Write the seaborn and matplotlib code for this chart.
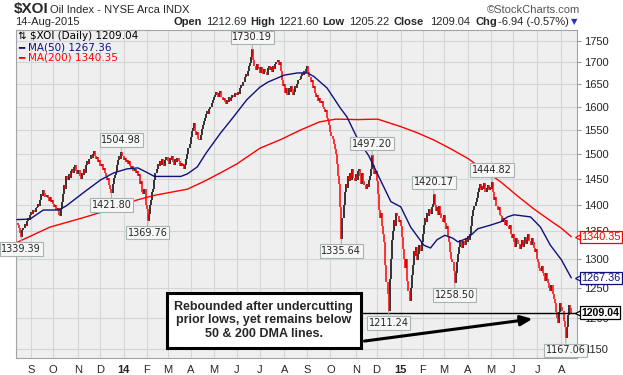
"""$XOI daily bar chart with 50/200-day moving averages, StockCharts style."""

import matplotlib

matplotlib.use("Agg")
import matplotlib.pyplot as plt
import matplotlib.ticker as mticker
import matplotlib.transforms as mtrans
import numpy as np
import pandas as pd
import seaborn as sns

# NYSE holidays inside the two-year window
HOLIDAYS = [
    "2013-09-02", "2013-11-28", "2013-12-25", "2014-01-01", "2014-01-20",
    "2014-02-17", "2014-04-18", "2014-05-26", "2014-07-04", "2014-09-01",
    "2014-11-27", "2014-12-25", "2015-01-01", "2015-01-19", "2015-02-16",
    "2015-04-03", "2015-05-25", "2015-07-03",
]

# daily closes (14-Aug-2013 .. 14-Aug-2015)
closes = [
    1365, 1362, 1356, 1348, 1339.39, 1352, 1357, 1363, 1360, 1370,
    1375, 1372, 1380, 1386, 1383, 1390, 1386, 1393, 1395, 1402,
    1398, 1410, 1420, 1416, 1428, 1422, 1415, 1419, 1412, 1408,
    1414, 1405, 1410, 1402, 1396, 1400, 1390, 1393, 1380, 1378,
    1392, 1405, 1420, 1438, 1430, 1455, 1448, 1460, 1452, 1465,
    1470, 1462, 1474, 1478, 1466, 1460, 1468, 1455, 1450, 1462,
    1458, 1470, 1462, 1478, 1485, 1480, 1490, 1498, 1492, 1500,
    1506, 1497, 1490, 1494, 1483, 1487, 1475, 1480, 1468, 1472,
    1462, 1455, 1448, 1452, 1438, 1430, 1421.80, 1440, 1452, 1458,
    1464, 1478, 1488, 1495, 1490, 1504.98, 1496, 1488, 1492, 1484,
    1488, 1480, 1485, 1475, 1470, 1476, 1466, 1470, 1462, 1465,
    1455, 1460, 1440, 1445, 1425, 1420, 1430, 1400, 1392, 1369.76,
    1382, 1400, 1410, 1425, 1430, 1448, 1462, 1470, 1480, 1476,
    1485, 1478, 1490, 1482, 1475, 1488, 1494, 1485, 1480, 1492,
    1488, 1496, 1484, 1478, 1490, 1483, 1492, 1486, 1476, 1482,
    1475, 1480, 1470, 1478, 1490, 1500, 1512, 1520, 1535, 1548,
    1555, 1565, 1548, 1540, 1545, 1532, 1528, 1540, 1552, 1560,
    1568, 1575, 1585, 1590, 1583, 1595, 1600, 1608, 1615, 1622,
    1625, 1632, 1628, 1620, 1630, 1635, 1622, 1615, 1618, 1610,
    1605, 1615, 1610, 1620, 1612, 1618, 1625, 1620, 1630, 1626,
    1625, 1632, 1628, 1640, 1648, 1645, 1655, 1665, 1672, 1668,
    1680, 1690, 1698, 1712, 1730.19, 1705, 1690, 1682, 1695, 1686,
    1685, 1676, 1688, 1680, 1672, 1684, 1678, 1670, 1686, 1690,
    1682, 1688, 1678, 1690, 1684, 1695, 1700, 1705, 1694, 1700,
    1680, 1660, 1645, 1650, 1630, 1640, 1625, 1640, 1632, 1645,
    1638, 1625, 1632, 1645, 1640, 1650, 1658, 1662, 1668, 1675,
    1670, 1680, 1676, 1685, 1690, 1678, 1665, 1655, 1660, 1640,
    1645, 1630, 1620, 1625, 1612, 1618, 1608, 1612, 1600, 1595,
    1588, 1592, 1575, 1570, 1560, 1545, 1538, 1530, 1520, 1510,
    1500, 1480, 1455, 1440, 1395, 1335.64, 1375, 1400, 1425, 1440,
    1432, 1455, 1445, 1462, 1448, 1470, 1452, 1445, 1460, 1448,
    1465, 1470, 1455, 1440, 1462, 1445, 1438, 1430, 1440, 1435,
    1448, 1455, 1470, 1497.20, 1478, 1460, 1465, 1445, 1420, 1390,
    1375, 1385, 1360, 1345, 1330, 1290, 1260, 1240, 1211.24, 1265,
    1300, 1335, 1350, 1372, 1360, 1385, 1378, 1368, 1372, 1360,
    1340, 1318, 1300, 1285, 1300, 1262, 1245, 1228, 1250, 1272,
    1290, 1315, 1305, 1322, 1298, 1310, 1325, 1315, 1330, 1345,
    1362, 1375, 1368, 1385, 1378, 1392, 1382, 1395, 1402, 1420.17,
    1400, 1388, 1395, 1380, 1398, 1385, 1375, 1368, 1380, 1365,
    1355, 1360, 1342, 1330, 1312, 1300, 1295, 1280, 1258.50, 1275,
    1295, 1310, 1322, 1335, 1328, 1320, 1332, 1325, 1338, 1330,
    1342, 1335, 1345, 1360, 1378, 1390, 1398, 1405, 1412, 1425,
    1432, 1440, 1428, 1436, 1430, 1442, 1425, 1432, 1438, 1428,
    1435, 1430, 1444.82, 1425, 1410, 1415, 1398, 1390, 1395, 1380,
    1378, 1368, 1375, 1370, 1362, 1372, 1360, 1355, 1362, 1345,
    1338, 1345, 1330, 1322, 1338, 1335, 1328, 1318, 1325, 1335,
    1322, 1330, 1340, 1328, 1335, 1345, 1332, 1325, 1338, 1330,
    1320, 1312, 1318, 1300, 1295, 1285, 1280, 1288, 1275, 1270,
    1262, 1275, 1265, 1258, 1250, 1245, 1255, 1240, 1232, 1225,
    1210, 1200, 1192, 1210, 1225, 1218, 1212, 1195, 1185, 1167.06,
    1185, 1205, 1222, 1216, 1209.04,
]

# moving averages, sampled along the curves (trading-day index, value)
ma50_idx = [0, 12, 24, 38, 45, 61, 76, 88, 100, 110, 119, 125, 149, 155, 164,
            172, 185, 197, 209, 221, 228, 243, 255, 264, 270, 282, 294, 300,
            310, 320, 330, 340, 349, 358, 370, 376, 382, 389, 396, 401, 410,
            419, 431, 440, 446, 452, 467, 476, 485, 495, 504]
ma50_val = [1372, 1373, 1390, 1390, 1398, 1424, 1448, 1462, 1470, 1472, 1462,
            1455, 1455, 1460, 1474, 1502, 1543, 1578, 1615, 1643, 1654, 1670,
            1675, 1675, 1667, 1641, 1597, 1578, 1530, 1496, 1450, 1406, 1396,
            1358, 1325, 1320, 1335, 1343, 1338, 1331, 1338, 1355, 1362, 1368,
            1377, 1381, 1377, 1358, 1325, 1299, 1267.36]
ma200_idx = [0, 30, 61, 91, 109, 125, 155, 170, 185, 200, 221, 240, 258, 275,
             290, 310, 328, 349, 364, 379, 395, 410, 425, 440, 455, 470, 485,
             495, 504]
ma200_val = [1330, 1358, 1376, 1395, 1409, 1418, 1430, 1445, 1462, 1480, 1512,
             1530, 1550, 1567, 1573, 1572, 1573, 1557, 1544, 1529, 1510, 1491,
             1467, 1444, 1417, 1392, 1370, 1356, 1340.35]

# labelled swing highs / lows
label_idx = [4, 86, 95, 119, 214, 295, 323, 338, 379, 398, 432, 499]
label_val = [1339.39, 1421.80, 1504.98, 1369.76, 1730.19, 1335.64, 1497.20,
             1211.24, 1420.17, 1258.50, 1444.82, 1167.06]
label_side = ["low", "low", "high", "low", "high", "low", "high", "low",
              "high", "low", "high", "low"]

price_ticks = [1150, 1200, 1250, 1300, 1350, 1400, 1450, 1500, 1550, 1600,
               1650, 1700, 1750]

W, H = 623, 375
NAVY = "#10107f"
GRID = "#d3d6d6"

sns.set_style("white")
plt.rcParams["font.family"] = ["Liberation Sans", "DejaVu Sans"]

fig = plt.figure(figsize=(W / 100, H / 100), dpi=100)
ax = fig.add_axes([16 / W, 17 / H, 561 / W, 328.5 / H])
ax.set_facecolor("#efefef")

dates = pd.bdate_range("2013-08-14", "2015-08-14", freq="C", holidays=HOLIDAYS)
n = min(len(dates), len(closes))
dates = dates[-n:]
close = np.asarray(closes[-n:], dtype=float)
idx = np.arange(n)
prev = np.r_[close[0], close[:-1]]
down = close < prev
lo = np.minimum(prev, close)
hi = np.maximum(prev, close)
hi = np.where(hi - lo < 2, hi + 1.5, hi)

ax.vlines(idx[~down], lo[~down], hi[~down], color="black", lw=1.1, zorder=3)
ax.vlines(idx[down], lo[down], hi[down], color="#ff0000", lw=1.1, zorder=3)

sns.lineplot(x=ma200_idx, y=ma200_val, ax=ax, color="#ff0000", lw=1.0, zorder=4)
sns.lineplot(x=ma50_idx, y=ma50_val, ax=ax, color=NAVY, lw=1.0, zorder=4)

# scales
ax.set_yscale("log")
ax.set_ylim(1136.5, 1777)
ax.set_xlim(-0.8, 509.2)
ax.yaxis.set_major_locator(mticker.FixedLocator(price_ticks))
ax.yaxis.set_major_formatter(mticker.FuncFormatter(lambda v, _: f"{v:.0f}"))
ax.yaxis.set_minor_locator(mticker.NullLocator())
ax.yaxis.tick_right()

months = pd.Series(dates.to_period("M"))
starts = np.flatnonzero(months.ne(months.shift()).to_numpy())[1:]
mlabels = [f"{dates[i].year % 100:02d}" if dates[i].month == 1
           else dates[i].strftime("%b")[0] for i in starts]
ax.set_xticks(starts)
ax.set_xticklabels(mlabels)
for t, i in zip(ax.get_xticklabels(), starts):
    if dates[i].month == 1:
        t.set_fontweight("bold")
        t.set_fontsize(9)

ax.tick_params(axis="both", labelsize=8, length=3, color="#999999", pad=2)
ax.grid(True, color=GRID, lw=0.8, zorder=0)
ax.set_axisbelow(True)
for s in ax.spines.values():
    s.set_color("#a0a4a4")
    s.set_linewidth(0.8)
ax.set_xlabel("")
ax.set_ylabel("")

# swing labels
for i, v, side in zip(label_idx, label_val, label_side):
    dy = 8.5 if side == "high" else -8.5
    ax.annotate(f"{v:.2f}", xy=(i, v), xytext=(0, dy), textcoords="offset points",
                ha="center", va="center", fontsize=7, family="DejaVu Sans",
                bbox=dict(boxstyle="square,pad=0.18", fc="#f7f7f7", ec="#a9b2b2", lw=0.8),
                arrowprops=dict(arrowstyle="-", color="#a9b2b2", lw=0.8,
                                shrinkA=0, shrinkB=0),
                zorder=7)

# support line, comment box and arrow
ax.hlines(1209.04, 300, 509.2, color="black", lw=1.0, zorder=5)
ax.text(224.5, 1196, "Rebounded after undercutting\nprior lows, yet remains below\n50 & 200 DMA lines.",
        ha="center", va="center", fontsize=9, fontweight="bold", linespacing=1.2,
        bbox=dict(boxstyle="square,pad=0.62", fc="white", ec="black", lw=2.2), zorder=8)
ax.annotate("", xy=(468.8, 1198.6), xytext=(316, 1163),
            arrowprops=dict(arrowstyle="-|>,head_length=0.7,head_width=0.3",
                            lw=2.2, color="black", shrinkA=0, shrinkB=0),
            zorder=8)

# price tags on the right axis
blend = mtrans.blended_transform_factory(ax.transAxes, ax.transData)
for val, col, weight in [(1340.35, "#ff0000", "normal"), (1267.36, NAVY, "normal"),
                         (1209.04, "black", "bold")]:
    ax.plot([1.004], [val], marker="<", ms=6, mfc="white", mec=col, mew=0.9,
            transform=blend, clip_on=False, zorder=9)
    ax.annotate(f"{val:.2f}", xy=(1.0, val), xycoords=blend, xytext=(3.0, 0),
                textcoords="offset points", ha="left", va="center",
                fontsize=7.6 if weight == "bold" else 7.8,
                fontweight=weight, color="black" if weight == "bold" else col,
                bbox=dict(boxstyle="square,pad=0.1", fc="white", ec=col, lw=0.9),
                annotation_clip=False, zorder=10)

# legend in the upper left
def px(x, y):
    return x / W, 1 - y / H

fig.text(*px(18, 36), "\u21c5 $XOI (Daily) 1209.04", fontsize=7.5, family="DejaVu Sans",
         va="center", color="black")
fig.text(*px(18, 47), "\u2501", fontsize=7.5, family="DejaVu Sans", va="center", color=NAVY)
fig.text(*px(28, 47), "MA(50) 1267.36", fontsize=7.5, family="DejaVu Sans", va="center", color=NAVY)
fig.text(*px(18, 57), "\u2501", fontsize=7.5, family="DejaVu Sans", va="center", color="#ff0000")
fig.text(*px(28, 57), "MA(200) 1340.35", fontsize=7.5, family="DejaVu Sans", va="center", color="#ff0000")

# header
fig.text(*px(14, 9), "$XOI", fontsize=11, fontweight="bold", va="center")
fig.text(*px(50, 10), "Oil Index - NYSE Arca INDX", fontsize=8, va="center")
fig.text(*px(580, 10), "\u00a9StockCharts.com", fontsize=8, va="center", ha="right", color="#555555")
fig.text(*px(15, 22), "14-Aug-2015", fontsize=8, va="center")
header = [(174, "Open", True), (206, "1212.69", False), (250, "High", True),
          (278, "1221.60", False), (322, "Low", True), (349, "1205.22", False),
          (394, "Close", True), (430, "1209.04", False), (475, "Chg", True),
          (498, "-6.94 (-0.57%)", False)]
for x, s, b in header:
    fig.text(*px(x, 22), s, fontsize=8, va="center", fontweight="bold" if b else "normal")
fig.text(*px(571, 22), "\u25bc", fontsize=6, va="center", color="#2233cc", family="DejaVu Sans")

fig.savefig("out.png", dpi=100)
plt.close(fig)
